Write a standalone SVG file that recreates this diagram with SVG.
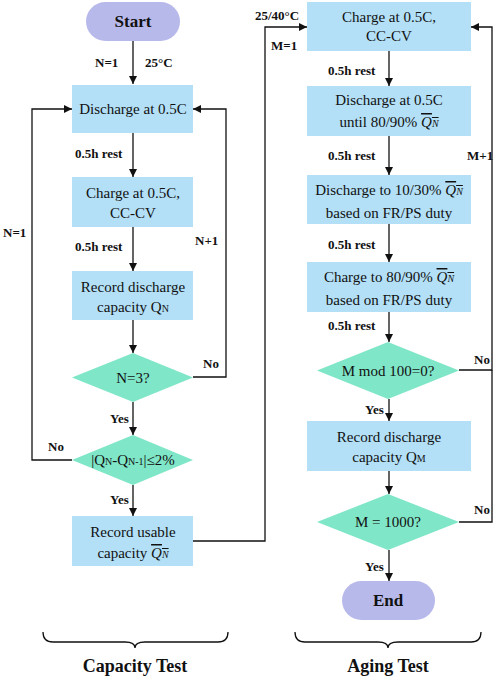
<svg xmlns="http://www.w3.org/2000/svg" width="498" height="679" viewBox="0 0 498 679" font-family="Liberation Serif, Tinos, Times New Roman, serif">
<defs>
<marker id="ah" viewBox="0 0 10 10" refX="10" refY="5" markerWidth="8" markerHeight="8" markerUnits="userSpaceOnUse" orient="auto">
<path d="M0,0 L10,5 L0,10 z" fill="#111"/>
</marker>
</defs>
<style>
.box{fill:#b3e0f7;}
.dia{fill:#80e6c8;}
.pill{fill:#b8b9eb;}
text{fill:#111;}
.t{font-size:15px;text-anchor:middle;}
.tb{font-size:17px;font-weight:bold;text-anchor:middle;}
.lb{font-size:13px;font-weight:bold;}
.title{font-size:18px;font-weight:bold;text-anchor:middle;}
.c{fill:none;stroke:#111;stroke-width:1.3;}
.s{font-size:10px;}
.qi{font-style:italic;}
</style>
<g id="connectors">
<path class="c" d="M133,41 V84" marker-end="url(#ah)"/>
<path class="c" d="M133,133 V177" marker-end="url(#ah)"/>
<path class="c" d="M133,227 V271" marker-end="url(#ah)"/>
<path class="c" d="M133,320 V353" marker-end="url(#ah)"/>
<path class="c" d="M133,402 V435" marker-end="url(#ah)"/>
<path class="c" d="M133,485 V516" marker-end="url(#ah)"/>
<path class="c" d="M193,377 H226 V109 H193" marker-end="url(#ah)"/>
<path class="c" d="M72,460 H32 V109 H72" marker-end="url(#ah)"/>
<path class="c" d="M193,541 H265 V27 H307" marker-end="url(#ah)"/>
<path class="c" d="M389,51 V86" marker-end="url(#ah)"/>
<path class="c" d="M389,136 V175" marker-end="url(#ah)"/>
<path class="c" d="M389,224 V262" marker-end="url(#ah)"/>
<path class="c" d="M389,312 V342" marker-end="url(#ah)"/>
<path class="c" d="M389,399 V421" marker-end="url(#ah)"/>
<path class="c" d="M389,471 V494" marker-end="url(#ah)"/>
<path class="c" d="M389,550 V581" marker-end="url(#ah)"/>
<path class="c" d="M459,370 H492 V27 H471" marker-end="url(#ah)"/>
<path class="c" d="M459,522 H492 V370"/>
<path class="c" d="M43,632 Q43,642 53,642 H125 Q135,642 135,648 Q135,642 145,642 H218 Q228,642 228,632"/>
<path class="c" d="M295,632 Q295,642 305,642 H378 Q388,642 388,648 Q388,642 398,642 H471 Q481,642 481,632"/>
</g>
<g id="labels">
<text class="lb" x="95" y="67">N=1</text>
<text class="lb" x="145" y="67">25°C</text>
<text class="lb" x="75" y="158">0.5h rest</text>
<text class="lb" x="3" y="237">N=1</text>
<text class="lb" x="195" y="245">N+1</text>
<text class="lb" x="75" y="251">0.5h rest</text>
<text class="lb" x="203" y="368">No</text>
<text class="lb" x="110" y="423">Yes</text>
<text class="lb" x="48" y="451">No</text>
<text class="lb" x="110" y="504">Yes</text>
<text class="lb" x="255" y="20">25/40°C</text>
<text class="lb" x="271" y="50">M=1</text>
<text class="lb" x="328" y="75">0.5h rest</text>
<text class="lb" x="328" y="160">0.5h rest</text>
<text class="lb" x="467" y="160">M+1</text>
<text class="lb" x="328" y="249">0.5h rest</text>
<text class="lb" x="328" y="330">0.5h rest</text>
<text class="lb" x="474" y="364">No</text>
<text class="lb" x="365" y="414">Yes</text>
<text class="lb" x="474" y="514">No</text>
<text class="lb" x="365" y="571">Yes</text>
<text class="title" x="135" y="672">Capacity Test</text>
<text class="title" x="388" y="672">Aging Test</text>
</g>
<g id="start"><rect class="pill" x="86" y="2" width="94" height="39" rx="19.5"/><text class="tb" x="133" y="27">Start</text></g>
<g id="discharge1"><rect class="box" x="72" y="85" width="121" height="48"/><text class="t" x="133" y="114">Discharge at 0.5C</text></g>
<g id="charge1"><rect class="box" x="72" y="177" width="121" height="50"/><text class="t" x="133" y="198">Charge at 0.5C,</text><text class="t" x="133" y="218">CC-CV</text></g>
<g id="record1"><rect class="box" x="72" y="271" width="121" height="49"/><text class="t" x="133" y="292">Record discharge</text><text class="t" x="133" y="312">capacity Q<tspan class="s">N</tspan></text></g>
<g id="dec1"><path class="dia" d="M133,353 L193,377.5 L133,402 L72,377.5 z"/><text class="t" x="133" y="383">N=3?</text></g>
<g id="dec2"><path class="dia" d="M133,435 L193,460 L133,485 L72,460 z"/><text class="t" x="133" y="465">|Q<tspan class="s">N</tspan>-Q<tspan class="s">N-1</tspan>|≤2%</text></g>
<g id="usable"><rect class="box" x="72" y="516" width="121" height="50"/><text class="t" x="133" y="537">Record usable</text><text class="t" x="133" y="558">capacity <tspan class="qi" text-decoration="overline">Q<tspan class="s">N</tspan></tspan></text></g>
<g id="charge2"><rect class="box" x="307" y="2" width="164" height="49"/><text class="t" x="389" y="22">Charge at 0.5C,</text><text class="t" x="389" y="41">CC-CV</text></g>
<g id="discharge2"><rect class="box" x="307" y="86" width="164" height="50"/><text class="t" x="389" y="105">Discharge at 0.5C</text><text class="t" x="389" y="127">until 80/90% <tspan class="qi" text-decoration="overline">Q<tspan class="s">N</tspan></tspan></text></g>
<g id="discharge3"><rect class="box" x="307" y="175" width="164" height="49"/><text class="t" x="389" y="195">Discharge to 10/30% <tspan class="qi" text-decoration="overline">Q<tspan class="s">N</tspan></tspan></text><text class="t" x="389" y="218">based on FR/PS duty</text></g>
<g id="charge3"><rect class="box" x="307" y="262" width="164" height="50"/><text class="t" x="389" y="282">Charge to 80/90% <tspan class="qi" text-decoration="overline">Q<tspan class="s">N</tspan></tspan></text><text class="t" x="389" y="305">based on FR/PS duty</text></g>
<g id="dec3"><path class="dia" d="M388,342 L459,370.5 L388,399 L317,370.5 z"/><text class="t" x="388" y="376">M mod 100=0?</text></g>
<g id="record2"><rect class="box" x="307" y="421" width="164" height="50"/><text class="t" x="389" y="442">Record discharge</text><text class="t" x="389" y="462">capacity Q<tspan class="s">M</tspan></text></g>
<g id="dec4"><path class="dia" d="M388,494 L459,522 L388,550 L317,522 z"/><text class="t" x="388" y="527">M = 1000?</text></g>
<g id="end"><rect class="pill" x="342" y="581" width="93" height="39" rx="19.5"/><text class="tb" x="388" y="606">End</text></g>
</svg>
